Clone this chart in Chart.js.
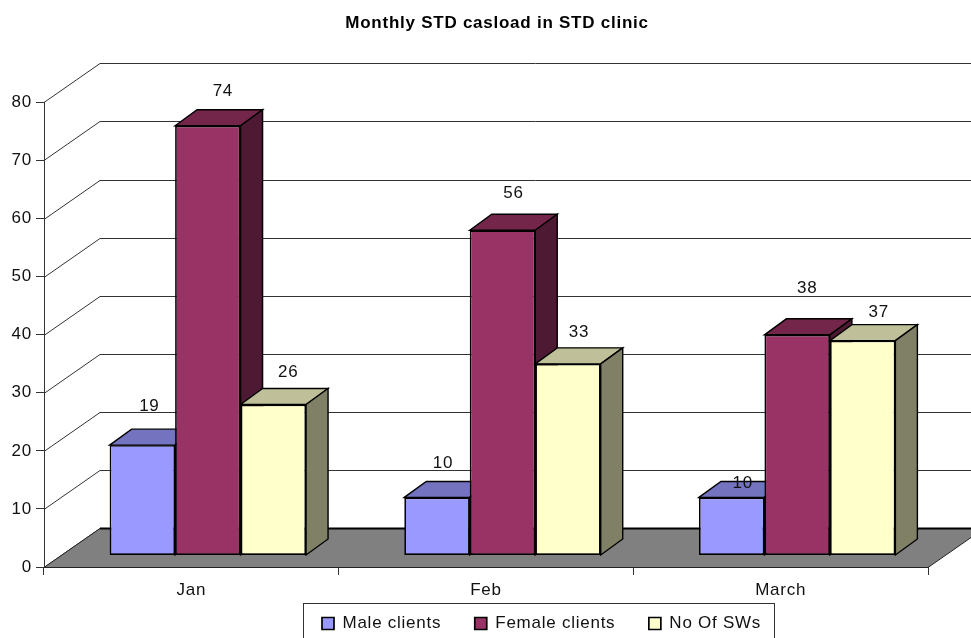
<!DOCTYPE html>
<html>
<head>
<meta charset="utf-8">
<title>Monthly STD casload in STD clinic</title>
<script src="https://cdn.jsdelivr.net/npm/chart.js@4"></script>
<style>
  html, body { margin: 0; padding: 0; background: #fff; overflow: hidden; }
  canvas { display: block; }
</style>
</head>
<body>
<canvas id="chart" width="971" height="638"></canvas>
<script>
// Values
const months = ["Jan", "Feb", "March"];
const maleClients = [19, 10, 10];
const femaleClients = [74, 56, 38];
const noOfSWs = [26, 33, 37];
const yTicks = [0, 10, 20, 30, 40, 50, 60, 70, 80];

// Fake 3D depth, in pixels
const wallShift = { x: 56, y: -39 };     // back wall against the axis plane
const barShift = { x: 16.5, y: -11.5 };  // bar fronts against the axis plane
const barDepth = { x: 22, y: -16 };      // front to back of one bar

const FONT = "'Liberation Sans', Arial, sans-serif";
const LEGEND_GAP = 33.5;

// Hand placed value labels: x offset from bar centre, lift above bar top
const labelNudge = [
  { dx: [7, 6, 11], lift: [39, 34, 14] },
  { dx: [15, 11, 10], lift: [34, 37, 47] },
  { dx: [15, 11, 16], lift: [32, 32, 28] }
];
const topColors = ["#7373BF", "#732649", "#BFBF99"];
const sideColors = ["#4D4D80", "#4D1933", "#808066"];

function poly(ctx, pts, fill, stroke, width) {
  ctx.beginPath();
  pts.forEach((p, i) => i ? ctx.lineTo(p[0], p[1]) : ctx.moveTo(p[0], p[1]));
  ctx.closePath();
  ctx.fillStyle = fill;
  ctx.fill();
  ctx.strokeStyle = stroke;
  ctx.lineWidth = width;
  ctx.stroke();
}

// Back wall, floor, bars with their side and top faces, then value labels
const fake3d = {
  id: "fake3d",
  // the reference text is wider than the font, so space it out a little
  beforeLayout(chart) {
    chart.ctx.letterSpacing = "0.75px";
  },
  afterLayout(chart) {
    chart.titleBlock.left = 0;
    chart.titleBlock.right = 994;
    chart.legend.left = 322 - LEGEND_GAP;
    chart.legend.top = 615 - LEGEND_GAP;
  },
  beforeDraw(chart) {
    chart.ctx.letterSpacing = "0.75px";
  },
  beforeDatasetsDraw(chart) {
    const ctx = chart.ctx;
    const area = chart.chartArea;
    const yScale = chart.scales.y;

    ctx.save();
    ctx.strokeStyle = "#333";
    ctx.lineWidth = 1;
    yScale.ticks.forEach(t => {
      const y = Math.round(yScale.getPixelForValue(t.value)) + 0.5;
      ctx.beginPath();
      ctx.moveTo(area.left, y);
      ctx.lineTo(area.left + wallShift.x, y + wallShift.y);
      ctx.lineTo(chart.width, y + wallShift.y);
      ctx.stroke();
    });

    // floor
    const by = area.bottom + 0.5;
    poly(ctx, [
      [area.left, by],
      [area.left + wallShift.x, by + wallShift.y],
      [area.right + wallShift.x, by + wallShift.y],
      [area.right, by]
    ], "#808080", "#222", 1);
    ctx.strokeStyle = "#000";
    ctx.lineWidth = 2;
    ctx.beginPath();
    ctx.moveTo(area.left + wallShift.x, by + wallShift.y);
    ctx.lineTo(area.right + wallShift.x, by + wallShift.y);
    ctx.stroke();
    ctx.restore();

    // bars go left to right so each one hides the side face of its neighbour
    ctx.save();
    ctx.translate(barShift.x, barShift.y);
    chart.data.datasets.forEach((ds, i) => {
      const meta = chart.getDatasetMeta(i);
      meta.data.forEach(bar => {
        const { x, y, base, width } = bar.getProps(["x", "y", "base", "width"], true);
        const l = x - width / 2;
        const r = x + width / 2;
        poly(ctx, [[l, y], [l + barDepth.x, y + barDepth.y], [r + barDepth.x, y + barDepth.y], [r, y]],
          topColors[i], "#000", 1.4);
        poly(ctx, [[r, y], [r + barDepth.x, y + barDepth.y], [r + barDepth.x, base + barDepth.y], [r, base]],
          sideColors[i], "#000", 1.4);
      });
      meta.controller.draw();
    });

    // value labels
    ctx.fillStyle = "#111";
    ctx.font = "17px " + FONT;
    ctx.textAlign = "center";
    ctx.textBaseline = "middle";
    chart.data.datasets.forEach((ds, i) => {
      chart.getDatasetMeta(i).data.forEach((bar, j) => {
        const { x, y } = bar.getProps(["x", "y"], true);
        ctx.fillText(ds.data[j], x + labelNudge[i].dx[j], y - labelNudge[i].lift[j]);
      });
    });
    ctx.restore();
    return false;
  },
  afterDraw(chart) {
    // legend frame, runs off the bottom of the picture
    const ctx = chart.ctx;
    ctx.save();
    ctx.strokeStyle = "#333";
    ctx.lineWidth = 1;
    ctx.strokeRect(303.5, 603.5, 471, 60);
    ctx.restore();
  }
};

const canvas = document.getElementById("chart");

new Chart(canvas, {
  type: "bar",
  data: {
    labels: months,
    datasets: [
      { label: "Male clients", data: maleClients, backgroundColor: "#9999FF" },
      { label: "Female clients", data: femaleClients, backgroundColor: "#993366" },
      { label: "No Of SWs", data: noOfSWs, backgroundColor: "#FFFFCC" }
    ]
  },
  options: {
    responsive: false,
    animation: false,
    events: [],
    layout: { padding: { left: 0, right: 43, top: 0, bottom: 0 } },
    datasets: {
      bar: {
        categoryPercentage: 2 / 3,
        barPercentage: 1,
        borderColor: "#000",
        borderWidth: 1.7,
        borderSkipped: false
      }
    },
    scales: {
      x: {
        afterFit: s => { s.height = 41; },
        grid: { drawOnChartArea: false, drawTicks: true, tickLength: 8, color: "#333" },
        border: { color: "#111" },
        ticks: { color: "#111", font: { family: FONT, size: 17 }, padding: 5, maxRotation: 0 }
      },
      y: {
        min: 0,
        max: 80,
        afterFit: s => { s.width = 44; },
        afterBuildTicks: s => { s.ticks = yTicks.map(value => ({ value })); },
        grid: { drawOnChartArea: false, drawTicks: true, tickLength: 8, color: "#333" },
        border: { color: "#333" },
        ticks: { color: "#111", font: { family: FONT, size: 17 }, padding: 4 }
      }
    },
    plugins: {
      tooltip: { enabled: false },
      title: {
        display: true,
        text: "Monthly STD casload in STD clinic",
        color: "#000",
        font: { family: FONT, size: 17, weight: "bold" },
        padding: { top: 13, bottom: 69 }
      },
      legend: {
        position: "bottom",
        align: "start",
        maxHeight: 30,
        labels: {
          color: "#111",
          font: { family: FONT, size: 17 },
          boxWidth: 12,
          boxHeight: 12,
          padding: LEGEND_GAP
        }
      }
    }
  },
  plugins: [fake3d]
});
</script>
</body>
</html>
